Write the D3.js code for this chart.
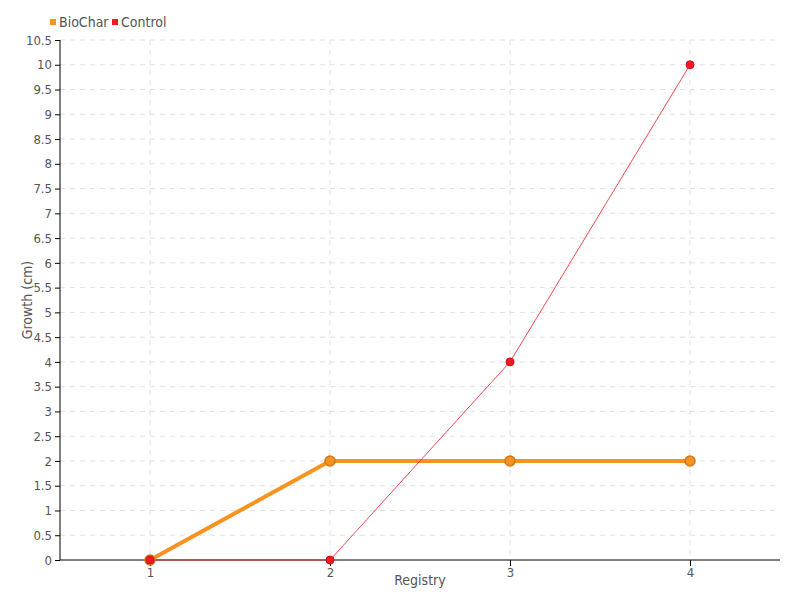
<!DOCTYPE html>
<html><head><meta charset="utf-8">
<script src="https://cdn.jsdelivr.net/npm/d3@7"></script>
<style>
body{margin:0;background:#fff;}
text{font-family:"Liberation Sans Narrow","DejaVu Sans Condensed",sans-serif;}
</style></head>
<body><svg id="c" width="800" height="600"></svg>
<script>
const registry = [1, 2, 3, 4];
const biochar = [0, 2, 2, 2];
const control = [0, 0, 4, 10];
const yTicks = d3.range(0, 10.51, 0.5);
const seriesNames = ["BioChar", "Control"];
const seriesColors = ["#f7931e", "#ed1c24"];

const svg = d3.select("#c");
const m = {l:60, r:20, t:40, b:40};
const W = 800, H = 600;
const x = d3.scaleLinear().domain([0.5, 4.5]).range([m.l, W - m.r]);
const y = d3.scaleLinear().domain([0, 10.5]).range([H - m.b, m.t]);

// grid
svg.append("g").selectAll("line").data(yTicks.slice(1)).join("line")
  .attr("x1", m.l).attr("x2", W - m.r)
  .attr("y1", d => y(d)).attr("y2", d => y(d))
  .attr("stroke", "#e0e0e0").attr("stroke-dasharray", "5,5");
svg.append("g").selectAll("line").data(registry).join("line")
  .attr("x1", d => x(d)).attr("x2", d => x(d))
  .attr("y1", m.t).attr("y2", H - m.b)
  .attr("stroke", "#e0e0e0").attr("stroke-dasharray", "5,5");

// axes
const fmt = d => String(d);
const ya = svg.append("g").attr("transform", `translate(${m.l},0)`)
  .call(d3.axisLeft(y).tickValues(yTicks).tickFormat(fmt).tickSize(5).tickPadding(3));
const xa = svg.append("g").attr("transform", `translate(0,${H - m.b})`)
  .call(d3.axisBottom(x).tickValues(registry).tickFormat(fmt).tickSize(6).tickPadding(2));
[ya, xa].forEach(a => {
  a.select(".domain").attr("stroke", "#000");
  a.selectAll(".tick line").attr("stroke", "#000");
  a.selectAll("text").attr("fill", "#555").style("font-size", "13px");
});
xa.select(".domain").attr("d", `M${m.l},0H${W - m.r}`);
ya.select(".domain").attr("d", `M0,${y(10.5)}V${y(0)}`);

// titles
svg.append("text").attr("x", (m.l + W - m.r) / 2).attr("y", 585)
  .attr("text-anchor", "middle").attr("fill", "#555").style("font-size", "14px").text("Registry");
svg.append("text").attr("transform", `translate(32,${(m.t + H - m.b) / 2}) rotate(-90)`)
  .attr("text-anchor", "middle").attr("fill", "#555").style("font-size", "14px").text("Growth (cm)");

// lines
const line = d3.line().x((d, i) => x(registry[i])).y(d => y(d));
svg.append("path").datum(biochar).attr("d", line).attr("fill", "none")
  .attr("stroke", seriesColors[0]).attr("stroke-width", 4);
svg.append("path").datum(control).attr("d", line).attr("fill", "none")
  .attr("stroke", seriesColors[1]).attr("stroke-width", 1).attr("stroke-opacity", 0.8);

svg.append("g").selectAll("circle").data(biochar).join("circle")
  .attr("cx", (d, i) => x(registry[i])).attr("cy", d => y(d)).attr("r", 5)
  .attr("fill", seriesColors[0]).attr("stroke", "#d0771a").attr("stroke-width", 1.5);
svg.append("g").selectAll("circle").data(control).join("circle")
  .attr("cx", (d, i) => x(registry[i])).attr("cy", d => y(d)).attr("r", 4)
  .attr("fill", seriesColors[1]).attr("stroke", "#d01020").attr("stroke-width", 1);

// legend
const lg = svg.append("g");
const lx = [50, 112];
seriesNames.forEach((n, i) => {
  lg.append("rect").attr("x", lx[i]).attr("y", 19).attr("width", 6).attr("height", 6).attr("fill", seriesColors[i]);
  lg.append("text").attr("x", lx[i] + 9).attr("y", 27).attr("fill", "#555").style("font-size", "14px").text(n);
});
</script></body></html>
